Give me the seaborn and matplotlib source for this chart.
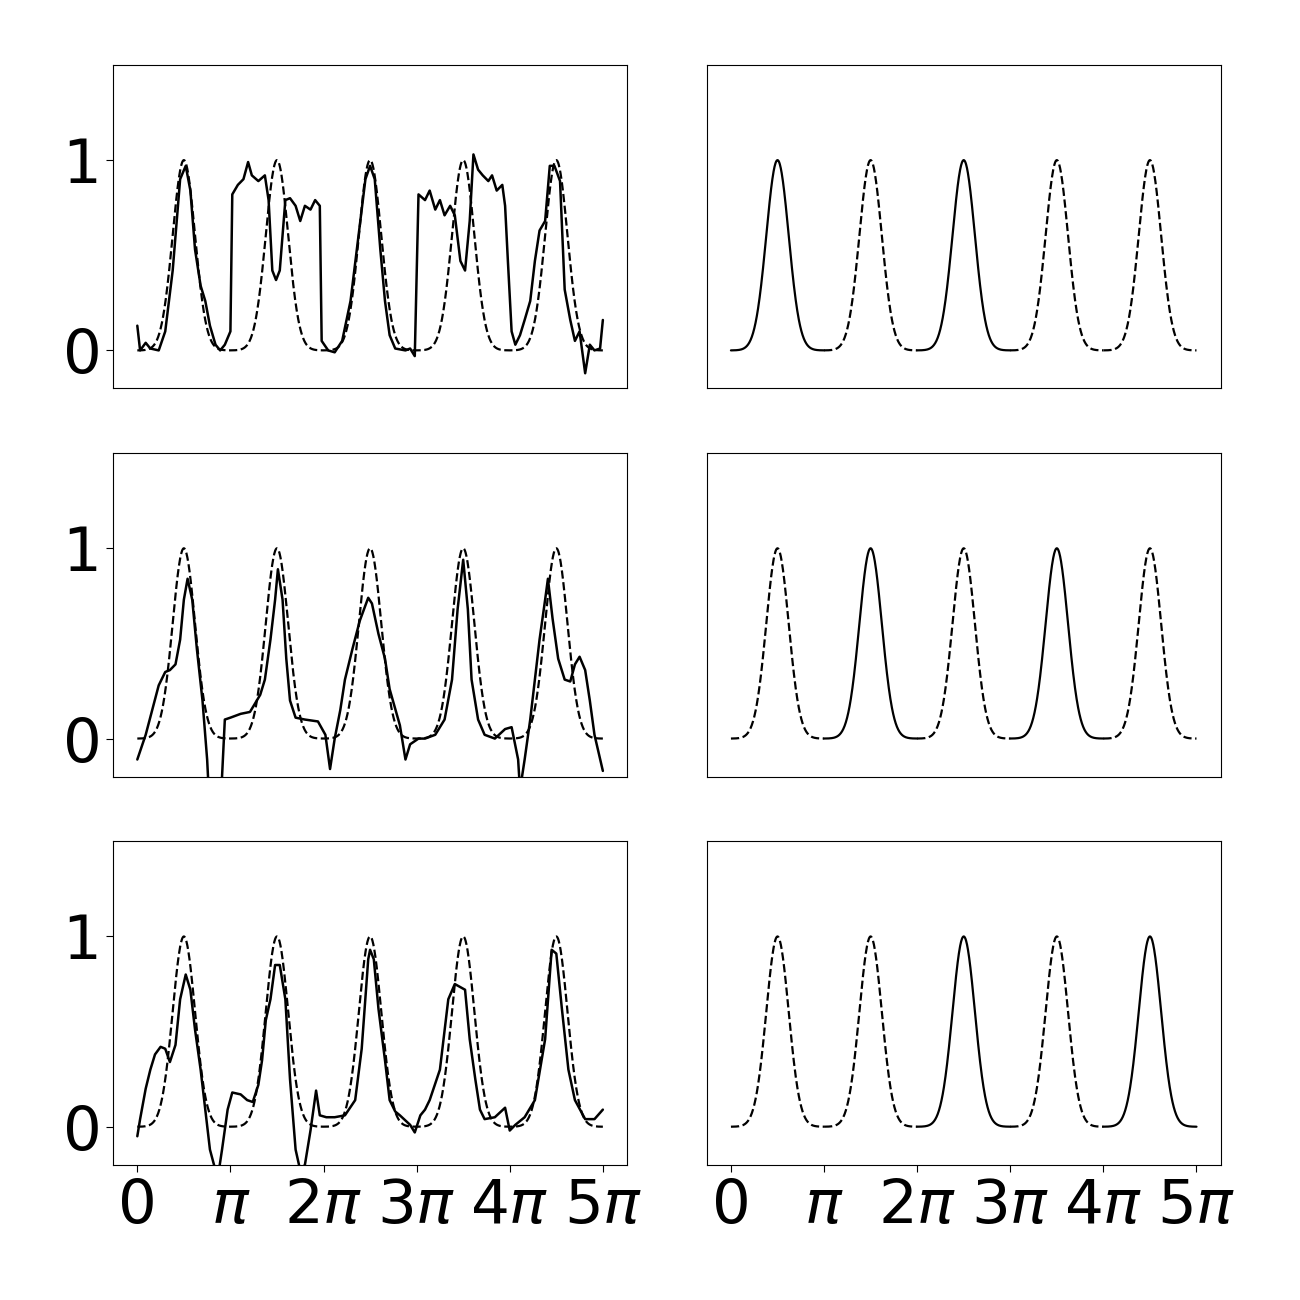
import numpy as np
import matplotlib
matplotlib.use("Agg")
import matplotlib.pyplot as plt
import seaborn as sns

# peak centres (units of pi) and which segments are solid on the right
PEAK_CENTRES = [0.5, 1.5, 2.5, 3.5, 4.5]
PEAK_SIGMA = 0.12
SOLID_SEGMENTS = [[0, 2], [1, 3], [2, 4]]

# measured traces, (x in units of pi, y)
TRACE_TOP = [(0, .13), (.03, 0), (.09, .04), (.14, .01), (.23, 0), (.30, .1), (.38, .42), (.46, .9),
             (.52, .97), (.57, .84), (.62, .53), (.68, .34), (.73, .26), (.78, .13), (.84, .03), (.89, 0),
             (.94, .03), (1.0, .1), (1.02, .82), (1.08, .87), (1.14, .9), (1.19, .99), (1.23, .92),
             (1.30, .89), (1.37, .92), (1.41, .79), (1.45, .42), (1.49, .37), (1.53, .42), (1.59, .79),
             (1.64, .8), (1.70, .76), (1.75, .68), (1.80, .76), (1.86, .74), (1.91, .79), (1.96, .76),
             (1.98, .05), (2.05, 0), (2.12, -.01), (2.20, .05), (2.29, .26), (2.37, .58), (2.45, .9),
             (2.50, .97), (2.55, .9), (2.61, .53), (2.66, .26), (2.71, .08), (2.77, .01), (2.88, 0),
             (2.93, .01), (2.98, -.03), (3.02, .82), (3.09, .79), (3.14, .84), (3.20, .74), (3.25, .79),
             (3.30, .71), (3.36, .76), (3.41, .71), (3.47, .47), (3.52, .42), (3.57, .68), (3.61, 1.03),
             (3.66, .95), (3.71, .92), (3.77, .89), (3.81, .92), (3.86, .84), (3.92, .87), (3.95, .76),
             (3.98, .47), (4.02, .1), (4.06, .03), (4.11, .08), (4.16, .16), (4.22, .26), (4.27, .47),
             (4.32, .63), (4.38, .68), (4.43, .97), (4.48, .97), (4.54, .89), (4.59, .32), (4.65, .16),
             (4.70, .05), (4.75, .1), (4.81, -.12), (4.86, .03), (4.91, 0), (4.97, .01), (5.0, .16)]

TRACE_MID = [(0, -.11), (.09, .02), (.16, .15), (.23, .28), (.30, .35), (.35, .36), (.41, .39),
             (.46, .52), (.50, .73), (.54, .84), (.59, .73), (.64, .47), (.70, .2), (.75, -.11),
             (.78, -.4), (.89, -.4), (.94, .1), (1.0, .11), (1.11, .13), (1.21, .14), (1.32, .23),
             (1.37, .31), (1.43, .52), (1.48, .73), (1.51, .89), (1.56, .73), (1.60, .42), (1.64, .2),
             (1.70, .11), (1.80, .1), (1.94, .09), (2.02, .02), (2.07, -.16), (2.12, 0), (2.18, .15),
             (2.23, .31), (2.31, .47), (2.39, .62), (2.48, .74), (2.52, .71), (2.59, .55), (2.66, .42),
             (2.71, .26), (2.82, .07), (2.88, -.11), (2.93, -.03), (3.02, 0), (3.09, 0), (3.20, .02),
             (3.30, .1), (3.38, .31), (3.44, .68), (3.50, .94), (3.55, .68), (3.59, .31), (3.66, .1),
             (3.73, .02), (3.84, 0), (3.95, .05), (4.02, .06), (4.09, -.11), (4.11, -.27), (4.16, -.11),
             (4.22, .1), (4.27, .31), (4.32, .52), (4.38, .73), (4.41, .84), (4.46, .63), (4.52, .42),
             (4.59, .31), (4.65, .3), (4.70, .39), (4.75, .43), (4.81, .36), (4.86, .2), (4.91, .02),
             (5.0, -.17)]

TRACE_BOT = [(0, -.05), (.03, .04), (.09, .2), (.14, .3), (.19, .38), (.25, .42), (.30, .41),
             (.35, .34), (.41, .43), (.46, .67), (.52, .8), (.57, .72), (.62, .51), (.68, .3),
             (.73, .09), (.78, -.12), (.84, -.23), (.87, -.25), (.91, -.12), (.97, .09),
             (1.02, .18), (1.11, .17), (1.18, .14), (1.24, .13), (1.30, .22), (1.34, .35), (1.38, .56),
             (1.43, .67), (1.48, .85), (1.53, .85), (1.59, .67), (1.64, .25), (1.70, -.12), (1.75, -.23),
             (1.80, -.2), (1.86, -.02), (1.92, .19), (1.96, .06), (2.03, .05), (2.12, .05), (2.23, .06),
             (2.34, .14), (2.41, .41), (2.48, .88), (2.50, .93), (2.54, .88), (2.59, .62), (2.66, .35),
             (2.71, .14), (2.77, .08), (2.82, .06), (2.93, .01), (2.98, -.03), (3.04, .06), (3.09, .09),
             (3.14, .14), (3.25, .3), (3.34, .67), (3.41, .75), (3.52, .72), (3.57, .46), (3.63, .25),
             (3.68, .09), (3.73, .04), (3.84, .05), (3.95, .1), (4.00, -.02), (4.06, .01), (4.16, .05),
             (4.27, .14), (4.38, .46), (4.45, .93), (4.50, .91), (4.56, .62), (4.63, .3), (4.70, .14),
             (4.81, .04), (4.91, .04), (5.0, .09)]

TRACES = [TRACE_TOP, TRACE_MID, TRACE_BOT]
XTICK_LABELS = ["0", r"$\pi$", r"$2\pi$", r"$3\pi$", r"$4\pi$", r"$5\pi$"]

sns.set_style("white")
plt.rcParams["font.family"] = ["DejaVu Sans"]

x_full = np.linspace(0, 5 * np.pi, 1500)


def bumps(x):
    y = np.zeros_like(x)
    for c in PEAK_CENTRES:
        y += np.exp(-0.5 * ((x / np.pi - c) / PEAK_SIGMA) ** 2)
    return y


fig, axes = plt.subplots(3, 2, figsize=(13, 13), dpi=100)
fig.subplots_adjust(left=0.087, right=0.939, top=0.95, bottom=0.104, wspace=0.155, hspace=0.2)

for r in range(3):
    axl, axr = axes[r]
    # left: reference dashed + measured trace
    sns.lineplot(x=x_full, y=bumps(x_full), ax=axl, color="black", lw=1.6, linestyle="--")
    tx = np.array([p[0] for p in TRACES[r]]) * np.pi
    ty = np.array([p[1] for p in TRACES[r]])
    sns.lineplot(x=tx, y=ty, ax=axl, color="black", lw=1.8, sort=False)
    # right: segments dashed or solid
    for k in range(5):
        xs = np.linspace(k * np.pi, (k + 1) * np.pi, 300)
        ls = "-" if k in SOLID_SEGMENTS[r] else "--"
        sns.lineplot(x=xs, y=bumps(xs), ax=axr, color="black", lw=1.6, linestyle=ls)
    for ax in (axl, axr):
        ax.set_xlim(-0.26 * np.pi, 5.26 * np.pi)
        ax.set_ylim(-0.2, 1.5)
        for s in ax.spines.values():
            s.set_visible(True)
            s.set_color("black")
            s.set_linewidth(0.8)
        ax.tick_params(labelsize=44, labelcolor="black", color="black", length=5, width=0.8,
                       direction="out", bottom=(r == 2), left=(ax is axl))
        if r < 2:
            ax.set_xticks([])
        else:
            ax.set_xticks(np.arange(6) * np.pi)
            ax.set_xticklabels(XTICK_LABELS)
    axl.set_yticks([0, 1])
    axr.set_yticks([])

fig.savefig("out.png", dpi=100)
